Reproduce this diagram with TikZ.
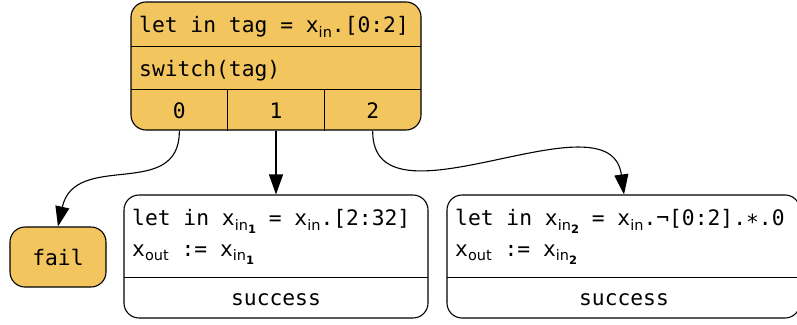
\documentclass[tikz,border=0pt]{standalone}
\usepackage{fontspec}
\setmainfont[WordSpace={1,0,0}]{DejaVu Sans Mono}
\newfontfamily\subfont{DejaVu Sans}
\usetikzlibrary{arrows.meta}

\definecolor{casefill}{HTML}{F2C55F}

% subscripts as in the rendered graph
\newcommand{\subtxt}[1]{\raisebox{-0.4ex}{\subfont\fontsize{14.5}{14}\selectfont #1}}
\newcommand{\subidx}[1]{\raisebox{-0.45ex}{\fontsize{11.5}{11}\selectfont\bfseries #1}}

\begin{document}
\begin{tikzpicture}[
        x=1pt, y=-1pt,
        every node/.style={font=\fontsize{21.3}{25}\selectfont},
        box/.style={draw, line width=1.1pt, rounded corners=15pt, inner sep=0pt},
        row/.style={inner sep=0pt, minimum width=290pt},
        port/.style={inner sep=0pt, minimum width=96.67pt, minimum height=41pt},
        line/.style={anchor=west, inner sep=0pt},
        edge/.style={line width=1.1pt, -{Triangle[length=20pt,width=14pt]}}
    ]
    \useasboundingbox (0,0) rectangle (797,324);

    % switch on the tag
    \node[box, fill=casefill, minimum width=290pt, minimum height=128pt] (top) at (276,66) {};
    \node[row, minimum height=42pt] (swrow) at (276,68) {};
    \node[line] (tagtxt) at (139,27) {let in tag = x\subtxt{in}.[0:2]};
    \node[line] (swtxt) at (139,71) {switch(tag)};
    \node[port] (p0) at (179.33,110.5) {0};
    \node[port] (p1) at (276,110.5) {1};
    \node[port] (p2) at (372.67,110.5) {2};
    \draw[line width=1.1pt] (swrow.north west) -- (swrow.north east);
    \draw[line width=1.1pt] (swrow.south west) -- (swrow.south east);
    \draw[line width=1.1pt] (p0.north east) -- (p0.south east);
    \draw[line width=1.1pt] (p1.north east) -- (p1.south east);

    % branches
    \node[box, fill=casefill, minimum width=96pt, minimum height=60pt] (fail) at (58,257) {fail};

    \node[box, minimum width=304pt, minimum height=123pt] (ok1) at (276,256.5) {};
    \node[line] (ok1a) at (132,221.5) {let in x\subtxt{in\subidx{1}} = x\subtxt{in}.[2:32]};
    \node[line] (ok1b) at (132,254.5) {x\subtxt{out} := x\subtxt{in\subidx{1}}};
    \node[inner sep=0pt, minimum width=304pt, minimum height=40pt] (done1) at (276,298) {};
    \node (succ1) at (276,300) {success};
    \draw[line width=1.1pt] (done1.north west) -- (done1.north east);

    \node[box, minimum width=353pt, minimum height=123pt] (ok2) at (623.5,256.5) {};
    \node[line] (ok2a) at (455,221.5) {let in x\subtxt{in\subidx{2}} = x\subtxt{in}.¬[0:2].∗.0};
    \node[line] (ok2b) at (455,254.5) {x\subtxt{out} := x\subtxt{in\subidx{2}}};
    \node[inner sep=0pt, minimum width=353pt, minimum height=40pt] (done2) at (623.5,298) {};
    \node (succ2) at (624,300) {success};
    \draw[line width=1.1pt] (done2.north west) -- (done2.north east);

    % edges
    \draw[edge] (p0.south) .. controls +(0,70) and (75,150) .. (fail.north);
    \draw[edge] (p1.south) -- (ok1.north -| p1.south);
    \draw[edge] (p2.south) .. controls +(0,105) and (610,90) .. (ok2.north -| 624,0);
\end{tikzpicture}
\end{document}
